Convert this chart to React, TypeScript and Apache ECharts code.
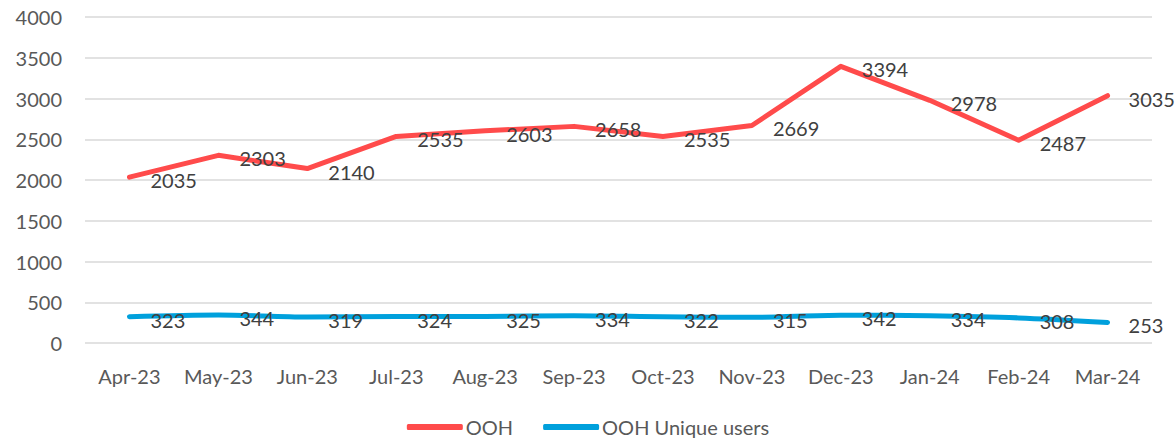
import React, { useEffect, useRef } from "react";
import * as echarts from "echarts";

const categories = ["Apr-23", "May-23", "Jun-23", "Jul-23", "Aug-23", "Sep-23", "Oct-23", "Nov-23", "Dec-23", "Jan-24", "Feb-24", "Mar-24"];
const oohValues = [2035, 2303, 2140, 2535, 2603, 2658, 2535, 2669, 3394, 2978, 2487, 3035];
const uniqueUsersValues = [323, 344, 319, 324, 325, 334, 322, 315, 342, 334, 308, 253];
const seriesNames = ["OOH", "OOH Unique users"];

const FONT = "Lato, 'Open Sans', sans-serif";

export default function App() {
  const ref = useRef<HTMLDivElement>(null);
  useEffect(() => {
    const chart = echarts.init(ref.current!, null, { renderer: "svg" });
    const label = {
      show: true,
      position: "right" as const,
      distance: 21,
      offset: [0, 3],
      color: "#404040",
      fontSize: 20,
      fontFamily: FONT,
    };
    chart.setOption({
      animation: false,
      grid: { left: 85, top: 17, width: 1067, height: 326 },
      legend: {
        top: 417,
        left: "center",
        padding: 0,
        itemWidth: 56,
        itemHeight: 6,
        itemGap: 30,
        icon: "roundRect",
        textStyle: { color: "#595959", fontSize: 20, lineHeight: 20, fontFamily: FONT, padding: [0, 0, 0, -2] },
        data: seriesNames,
      },
      xAxis: {
        type: "category",
        data: categories,
        boundaryGap: true,
        axisLine: { show: false },
        axisTick: { show: false },
        axisLabel: { color: "#595959", fontSize: 20, fontFamily: FONT, margin: 23, interval: 0 },
      },
      yAxis: {
        type: "value",
        min: 0,
        max: 4000,
        interval: 500,
        axisLine: { show: false },
        axisTick: { show: false },
        axisLabel: { color: "#595959", fontSize: 20, fontFamily: FONT, margin: 23, formatter: (v: number) => String(v) },
        splitLine: { lineStyle: { color: "#D9D9D9", width: 1.5 } },
      },
      series: [
        {
          name: seriesNames[0],
          type: "line",
          data: oohValues,
          symbol: "circle",
          symbolSize: 0,
          showSymbol: true,
          lineStyle: { color: "#FF4B4B", width: 5, cap: "round", join: "round" },
          itemStyle: { color: "#FF4B4B" },
          label,
        },
        {
          name: seriesNames[1],
          type: "line",
          data: uniqueUsersValues,
          symbol: "circle",
          symbolSize: 0,
          showSymbol: true,
          smooth: 0.3,
          lineStyle: { color: "#00A0DC", width: 5, cap: "round", join: "round" },
          itemStyle: { color: "#00A0DC" },
          label,
        },
      ],
    });
    return () => chart.dispose();
  }, []);
  return <div ref={ref} style={{ position: "absolute", left: 0, top: 0, width: 1176, height: 440 }} />;
}
